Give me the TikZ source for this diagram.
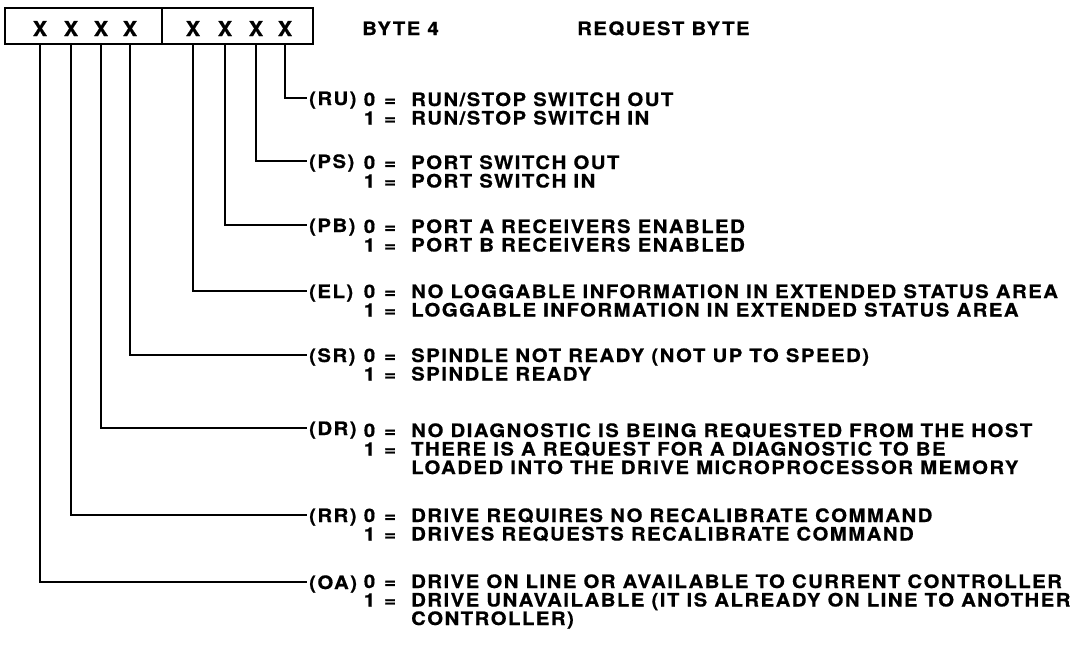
\documentclass[tikz,border=0pt]{standalone}
\usepackage{fontspec}
\newfontfamily\hv[LetterSpace=8, FakeStretch=1.1, BoldFeatures={FakeBold=0.6}]{TeX Gyre Heros}
\newfontfamily\hvx[FakeStretch=1.05, BoldFeatures={FakeBold=0.6}]{TeX Gyre Heros}
\tikzset{
  x=1pt, y=-1pt,
  txt/.style={font=\hv\bfseries\fontsize{18.5}{18.5}\selectfont, inner sep=0pt},
  val/.style={txt, anchor=base west},
  lbl/.style={txt, anchor=west, inner xsep=2pt, inner ysep=0pt, text height=14pt, text depth=0pt},
  bitx/.style={font=\hvx\bfseries\fontsize{20.5}{21}\selectfont, inner sep=0pt, anchor=base},
  cell/.style={draw, line width=2.8pt, inner sep=0pt},
  conn/.style={line width=2.2pt}
}
\newcommand\valline[4]{\node[val] (#1) at (363,#2) {\makebox[12pt][r]{#3}\hspace{8pt}\makebox[14pt][c]{=}\hspace{14pt}#4};}
\begin{document}
\begin{tikzpicture}
\useasboundingbox[fill=white] (0,0) rectangle (1079,648);
% byte box
\node[cell, minimum width=157pt, minimum height=36pt] (lbox) at (83.5,26) {};
\node[cell, minimum width=151pt, minimum height=36pt] (rbox) at (237.5,26) {};
\node[bitx] (b7) at (40,36) {X};
\node[bitx] (b6) at (71,36) {X};
\node[bitx] (b5) at (101,36) {X};
\node[bitx] (b4) at (130,36) {X};
\node[bitx] (b3) at (193,36) {X};
\node[bitx] (b2) at (225,36) {X};
\node[bitx] (b1) at (256,36) {X};
\node[bitx] (b0) at (285,36) {X};
% header
\node[val] (hbyte) at (362,35) {BYTE 4};
\node[val] (hreq) at (577,35) {REQUEST BYTE};
% labels
\node[lbl] (ru) at (307,98) {(RU)};
\node[lbl] (ps) at (307,161) {(PS)};
\node[lbl] (pb) at (307,225) {(PB)};
\node[lbl] (el) at (307,291) {(EL)};
\node[lbl] (sr) at (307,355) {(SR)};
\node[lbl] (dr) at (307,428) {(DR)};
\node[lbl] (rr) at (307,515) {(RR)};
\node[lbl] (oa) at (307,582) {(OA)};
% values
\valline{ru0}{106}{0}{RUN/STOP SWITCH OUT}
\valline{ru1}{124.5}{1}{RUN/STOP SWITCH IN}
\valline{ps0}{169}{0}{PORT SWITCH OUT}
\valline{ps1}{187.5}{1}{PORT SWITCH IN}
\valline{pb0}{233}{0}{PORT A RECEIVERS ENABLED}
\valline{pb1}{251.5}{1}{PORT B RECEIVERS ENABLED}
\valline{el0}{298}{0}{NO LOGGABLE INFORMATION IN EXTENDED STATUS AREA}
\valline{el1}{316.5}{1}{LOGGABLE INFORMATION IN EXTENDED STATUS AREA}
\valline{sr0}{362}{0}{SPINDLE NOT READY (NOT UP TO SPEED)}
\valline{sr1}{380.5}{1}{SPINDLE READY}
\valline{dr0}{437}{0}{NO DIAGNOSTIC IS BEING REQUESTED FROM THE HOST}
\valline{dr1}{455.5}{1}{THERE IS A REQUEST FOR A DIAGNOSTIC TO BE}
\node[val] (dr2) at (411,474) {LOADED INTO THE DRIVE MICROPROCESSOR MEMORY};
\valline{rr0}{522}{0}{DRIVE REQUIRES NO RECALIBRATE COMMAND}
\valline{rr1}{540.5}{1}{DRIVES REQUESTS RECALIBRATE COMMAND}
\valline{oa0}{588}{0}{DRIVE ON LINE OR AVAILABLE TO CURRENT CONTROLLER}
\valline{oa1}{606.5}{1}{DRIVE UNAVAILABLE (IT IS ALREADY ON LINE TO ANOTHER}
\node[val] (oa2) at (411,625) {CONTROLLER)};
% connectors
\draw[conn] (b0 |- rbox.south) |- (ru.west);
\draw[conn] (b1 |- rbox.south) |- (ps.west);
\draw[conn] (b2 |- rbox.south) |- (pb.west);
\draw[conn] (b3 |- rbox.south) |- (el.west);
\draw[conn] (b4 |- lbox.south) |- (sr.west);
\draw[conn] (b5 |- lbox.south) |- (dr.west);
\draw[conn] (b6 |- lbox.south) |- (rr.west);
\draw[conn] (b7 |- lbox.south) |- (oa.west);
\end{tikzpicture}
\end{document}
